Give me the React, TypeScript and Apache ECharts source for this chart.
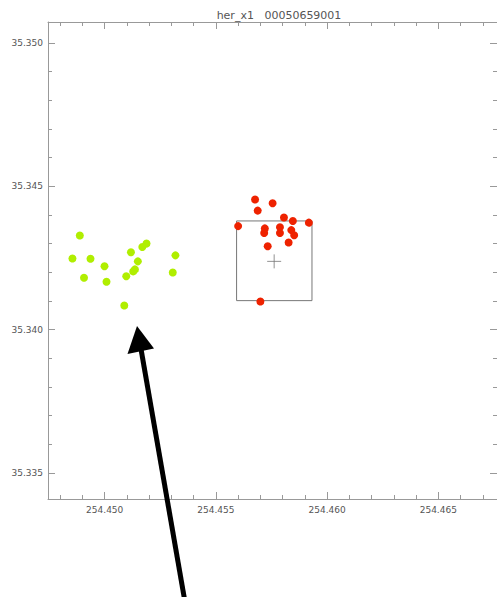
import React, { useEffect, useRef } from "react";
import * as echarts from "echarts";

const titleText = "her_x1   00050659001";

const greenX = [254.44888, 254.44855, 254.44936, 254.44999, 254.44907, 254.45008, 254.45118, 254.45169, 254.45188, 254.45149, 254.45136, 254.45128, 254.45097, 254.45088, 254.45318, 254.45306];
const greenY = [35.34328, 35.34248, 35.34247, 35.34221, 35.34181, 35.34167, 35.3427, 35.34288, 35.343, 35.34238, 35.3421, 35.34203, 35.34186, 35.34084, 35.34259, 35.34199];

const redX = [254.45676, 254.45688, 254.45755, 254.456, 254.45806, 254.45846, 254.45918, 254.4572, 254.45717, 254.45788, 254.45788, 254.45839, 254.45852, 254.45733, 254.45827, 254.457];
const redY = [35.34454, 35.34415, 35.34441, 35.34361, 35.34391, 35.34379, 35.34373, 35.34353, 35.34337, 35.34357, 35.34337, 35.34347, 35.34329, 35.34291, 35.34304, 35.34098];

const boxX = [254.45593, 254.45932, 254.45932, 254.45593, 254.45593];
const boxY = [35.34379, 35.34379, 35.34101, 35.34101, 35.34379];

const centerX = [254.45762];
const centerY = [35.34238];

const xMajor = [254.45, 254.455, 254.46, 254.465];
const xMinor = [254.448, 254.449, 254.451, 254.452, 254.453, 254.454, 254.456, 254.457, 254.458, 254.459, 254.461, 254.462, 254.463, 254.464, 254.466, 254.467];
const yMajor = [35.335, 35.34, 35.345, 35.35];
const yMinor = [35.336, 35.337, 35.338, 35.339, 35.341, 35.342, 35.343, 35.344, 35.346, 35.347, 35.348, 35.349];

const X_MIN = 254.44745;
const X_MAX = 254.46764;
const Y_MIN = 35.33409;
const Y_MAX = 35.35073;

const zip = (a: number[], b: number[]) => a.map((v, i) => [v, b[i]]);

export default function App() {
  const ref = useRef<HTMLDivElement>(null);
  useEffect(() => {
    if (!ref.current) return;
    const chart = echarts.init(ref.current, undefined, { renderer: "svg" });
    const axisColor = "#999";
    const labelStyle = { color: "#555", fontSize: 9, fontFamily: "DejaVu Sans" };
    const mkX = (position: string, ticks: number[], len: number, labels: boolean, line: boolean) => ({
      type: "value",
      position,
      min: X_MIN,
      max: X_MAX,
      splitLine: { show: false },
      axisLine: { show: line, onZero: false, lineStyle: { color: axisColor, width: 1 } },
      axisTick: { show: true, inside: true, length: len, customValues: ticks, lineStyle: { color: axisColor } },
      axisLabel: labels
        ? { show: true, customValues: ticks, margin: 6, formatter: (v: number) => v.toFixed(3), ...labelStyle }
        : { show: false },
    });
    const mkY = (position: string, ticks: number[], len: number, labels: boolean, line: boolean) => ({
      type: "value",
      position,
      min: Y_MIN,
      max: Y_MAX,
      splitLine: { show: false },
      axisLine: { show: line, onZero: false, lineStyle: { color: axisColor, width: 1 } },
      axisTick: { show: true, inside: true, length: len, customValues: ticks, lineStyle: { color: axisColor } },
      axisLabel: labels
        ? { show: true, customValues: ticks, margin: 5, formatter: (v: number) => v.toFixed(3), ...labelStyle }
        : { show: false },
    });
    chart.setOption({
      animation: false,
      backgroundColor: "#fff",
      title: {
        text: titleText,
        left: 274,
        textAlign: "center",
        top: 5,
        textStyle: { color: "#555", fontSize: 11, fontWeight: "normal", fontFamily: "DejaVu Sans" },
      },
      grid: { left: 48, top: 22, right: -3, bottom: 98 },
      xAxis: [
        mkX("bottom", xMajor, 7, true, true),
        mkX("bottom", xMinor, 4, false, false),
        mkX("top", xMajor, 7, false, true),
        mkX("top", xMinor, 4, false, false),
      ],
      yAxis: [
        mkY("left", yMajor, 7, true, true),
        mkY("left", yMinor, 4, false, false),
        mkY("right", yMajor, 7, false, true),
        mkY("right", yMinor, 4, false, false),
      ],
      series: [
        {
          type: "line",
          data: zip(boxX, boxY),
          symbol: "none",
          lineStyle: { color: "#777", width: 1 },
          z: 2,
        },
        {
          type: "scatter",
          data: zip(centerX, centerY),
          symbol: "path://M0,7L14,7M7,0L7,14",
          symbolSize: 14,
          itemStyle: { color: "none", borderColor: "#777", borderWidth: 1 },
          z: 2,
        },
        {
          type: "scatter",
          data: zip(greenX, greenY),
          symbolSize: 8,
          itemStyle: { color: "#b0ee00", opacity: 1 },
          z: 3,
        },
        {
          type: "scatter",
          data: zip(redX, redY),
          symbolSize: 8,
          itemStyle: { color: "#ee2200", opacity: 1 },
          z: 3,
        },
      ],
      graphic: [
        {
          type: "line",
          shape: { x1: 141, y1: 349, x2: 185, y2: 602 },
          style: { stroke: "#000", lineWidth: 5 },
          z: 100,
        },
        {
          type: "polygon",
          shape: { points: [[137, 326], [127.5, 354], [154, 348.5]] },
          style: { fill: "#000" },
          z: 101,
        },
      ],
    });
    return () => chart.dispose();
  }, []);
  return (
    <div
      ref={ref}
      style={{ position: "fixed", left: 0, top: 0, width: 497, height: 597, background: "#fff" }}
    />
  );
}
